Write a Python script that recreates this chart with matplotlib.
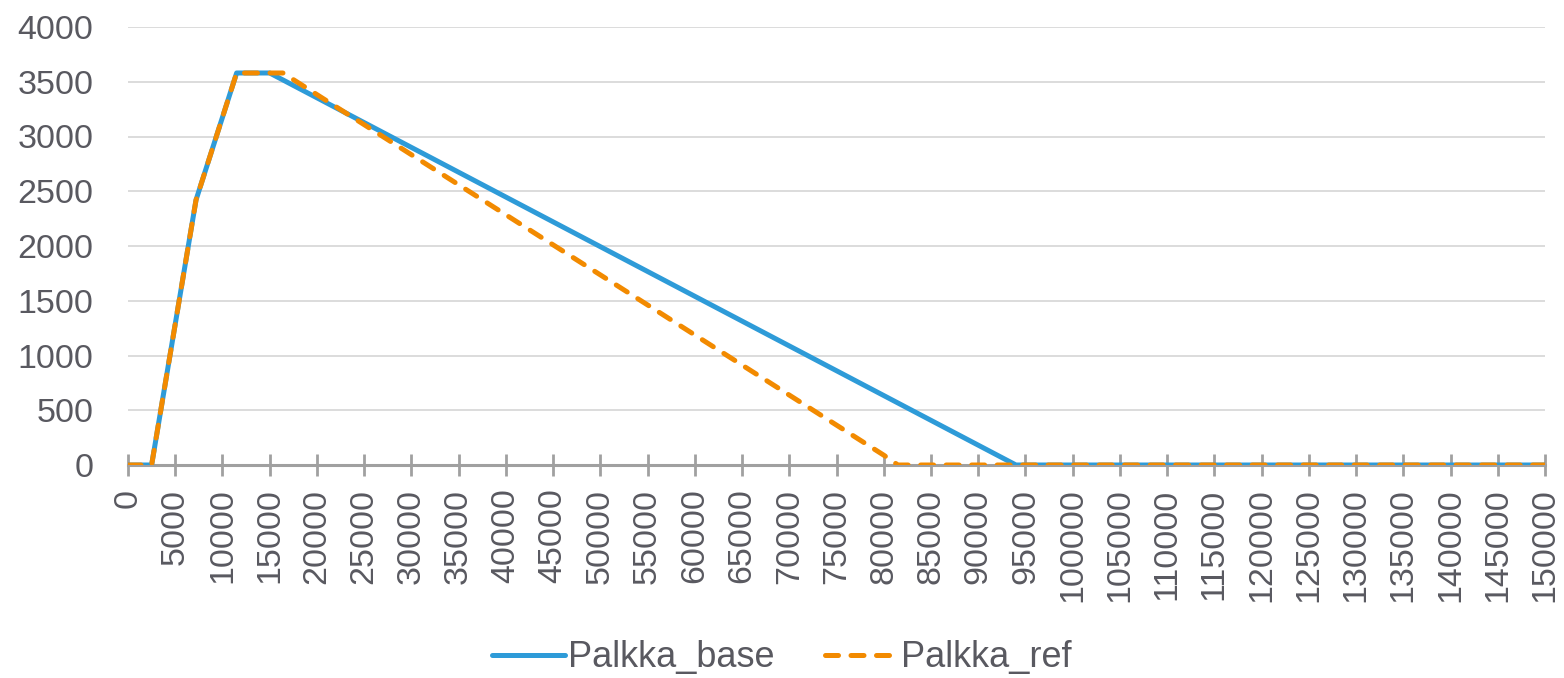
import numpy as np
import matplotlib.pyplot as plt

plt.rcParams['font.family'] = ['Liberation Sans', 'DejaVu Sans']

# data
base_x = [0, 2500, 7200, 11500, 15000, 94000, 150000]
base_y = [0, 0, 2420, 3580, 3580, 0, 0]
ref_x = [0, 2500, 7200, 11500, 16400, 80000, 81500, 150000]
ref_y = [0, 0, 2420, 3580, 3580, 90, 0, 0]
x_ticks = np.arange(0, 150001, 5000)
y_ticks = np.arange(0, 4001, 500)

txt = '#595960'
fs = 24.5
fig = plt.figure(figsize=(15.64, 6.78), dpi=100)
ax = fig.add_axes([128/1564, 1 - 465/678, (1545 - 128)/1564, (465 - 27)/678])

ax.plot(base_x, base_y, color='#2E9BD8', lw=3.6, label='Palkka_base', zorder=3,
        solid_capstyle='round')
ax.plot(ref_x, ref_y, color='#F28A00', lw=3.6, ls=(0, (2.6, 2.5)), label='Palkka_ref',
        zorder=4, dash_capstyle='round')

ax.set_xlim(0, 150000)
ax.set_ylim(0, 4000)
ax.set_xticks(x_ticks)
ax.set_xticklabels([str(v) for v in x_ticks], rotation=90)
ax.set_yticks(y_ticks)
ax.yaxis.grid(True, color='#D9D9D9', lw=1.3, zorder=0)
ax.set_axisbelow(True)

for s in ['top', 'right', 'left']:
    ax.spines[s].set_visible(False)
ax.spines['bottom'].set_color('#A0A0A0')
ax.spines['bottom'].set_linewidth(2.2)
ax.spines['bottom'].set_zorder(2)

ax.tick_params(axis='x', direction='inout', length=16, width=2, color='#A0A0A0',
               labelsize=fs, labelcolor=txt, pad=9)
ax.tick_params(axis='y', length=0, labelsize=fs, labelcolor=txt, pad=25)

leg = fig.legend(loc='center', bbox_to_anchor=(0.5, 1 - 658/678), ncol=2, frameon=False,
                 fontsize=26, handlelength=2.0, columnspacing=1.4, handletextpad=0.1)
for t in leg.get_texts():
    t.set_color(txt)

fig.savefig('out.png', dpi=100)
